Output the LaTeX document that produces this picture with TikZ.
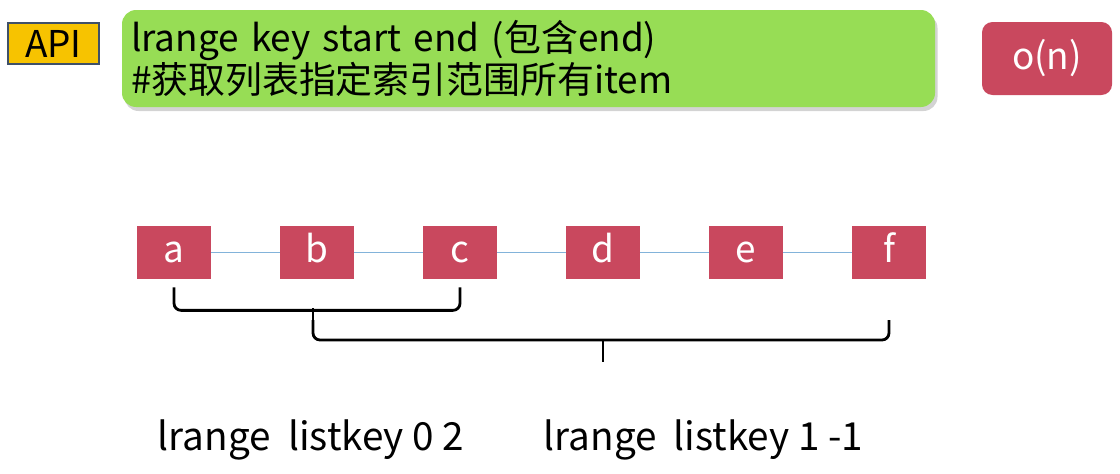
\documentclass[tikz,border=0pt]{standalone}
\usepackage{fontspec}
\setmainfont{Noto Sans CJK SC}
\usepackage{tikz}
\usetikzlibrary{shadows}
\pgfdeclarelayer{bg}
\pgfsetlayers{bg,main}
\definecolor{itemred}{HTML}{C9485E}
\definecolor{cmdgreen}{HTML}{97DD55}
\definecolor{apiyellow}{HTML}{F7C300}
\definecolor{apiframe}{HTML}{3F5068}
\definecolor{linkblue}{HTML}{82B3DA}
\tikzset{
    item/.style={rectangle, fill=itemred, text=white, minimum width=1.48cm, minimum height=1.06cm, inner sep=0mm, text height=1.1em, text depth=0pt, font=\fontsize{21}{24}\selectfont},
    brace/.style={line width=1.6pt, rounded corners=4pt}
}

\begin{document}
\begin{tikzpicture}
        \useasboundingbox (0cm, 0cm) rectangle (22.400000cm, -9.460000cm);
        \node (api) [rectangle, draw=apiframe, line width=1.4pt, fill=apiyellow, minimum width=1.82cm, minimum height=0.82cm, inner sep=0mm, font=\fontsize{21}{24}\selectfont] at (1.070000cm, -0.870000cm) {API};
        \node (cmd) [rectangle, rounded corners=8pt, fill=cmdgreen, drop shadow={opacity=0.35, shadow xshift=0.5mm, shadow yshift=-0.8mm}, minimum width=16.260000cm, minimum height=1.940000cm, text width=15.900000cm, align=left, inner xsep=0.18cm, font=\fontsize{21}{23.5}\selectfont] at (10.570000cm, -1.170000cm) {lrange key start end (包含end)\\\#获取列表指定索引范围所有item};
        \node (cost) [rectangle, rounded corners=6pt, fill=itemred, text=white, minimum width=2.600000cm, minimum height=1.460000cm, inner sep=0mm, font=\fontsize{21}{24}\selectfont] at (20.940000cm, -1.170000cm) {o(n)};
        \node (a) [item] at (3.480000cm, -5.050000cm) {a};
        \node (b) [item] at (6.340000cm, -5.050000cm) {b};
        \node (c) [item] at (9.200000cm, -5.050000cm) {c};
        \node (d) [item] at (12.060000cm, -5.050000cm) {d};
        \node (e) [item] at (14.920000cm, -5.050000cm) {e};
        \node (f) [item] at (17.780000cm, -5.050000cm) {f};
        \node (q1) [font=\fontsize{22}{24}\selectfont] at (6.220000cm, -8.800000cm) {lrange~~listkey 0 2};
        \node (q2) [font=\fontsize{22}{24}\selectfont] at (14.070000cm, -8.800000cm) {lrange~~listkey 1 -1};
        \coordinate (m1) at (6.260000cm, -6.600000cm);
        \coordinate (m2) at (12.060000cm, -7.240000cm);
        \begin{pgfonlayer}{bg}
                \draw [linkblue, line width=0.8pt] (a) -- (b) -- (c) -- (d) -- (e) -- (f);
        \end{pgfonlayer}
        \draw [brace] ([yshift=-0.16cm]a.south) -- ++(0, -0.46cm) -| ([yshift=-0.16cm]c.south);
        \draw [line width=1.6pt] (m1 |- 0, -6.160000cm) -- (m1);
        \draw [brace] (m1 |- 0, -6.400000cm) -- (m1 |- 0, -6.800000cm) -| (f.south |- 0, -6.400000cm);
        \draw [line width=1.6pt] (m2 |- 0, -6.800000cm) -- (m2);
\end{tikzpicture}
\end{document}
